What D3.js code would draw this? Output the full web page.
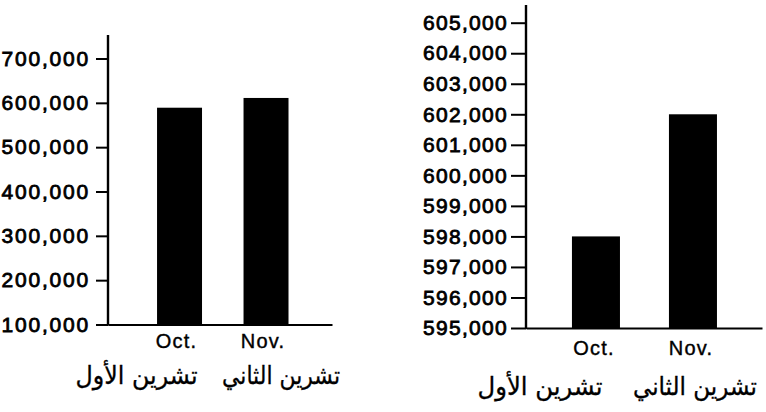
<!DOCTYPE html>
<html>
<head>
<meta charset="utf-8">
<script src="https://cdn.jsdelivr.net/npm/d3@7"></script>
<style>
  html, body { margin: 0; padding: 0; background: #fff; }
  svg { display: block; }
</style>
</head>
<body>
<svg id="chart" width="766" height="412"></svg>
<script>
// ---- data ----
const categories = ["Oct.", "Nov."];
const arabicLabels = ["تشرين الأول", "تشرين الثاني"];
const leftValues = [589000, 611000];
const rightValues = [598000, 602000];
const leftTicks = [100000, 200000, 300000, 400000, 500000, 600000, 700000];
const rightTicks = [595000, 596000, 597000, 598000, 599000, 600000, 601000, 602000, 603000, 604000, 605000];

const svg = d3.select("#chart");
const fmt = d3.format(",");

function drawChart(cfg) {
  const g = svg.append("g");
  const y = d3.scaleLinear().domain(cfg.domain).range([cfg.baseY, cfg.topTickY]);
  const x = d3.scaleBand().domain(categories)
    .range([cfg.axisX, cfg.endX])
    .paddingInner(cfg.padInner).paddingOuter(cfg.padOuter).align(cfg.align);

  // bars
  g.selectAll("rect.bar").data(cfg.values).enter().append("rect")
    .attr("class", "bar")
    .attr("x", (d, i) => x(categories[i]))
    .attr("width", x.bandwidth())
    .attr("y", d => y(d))
    .attr("height", d => y(cfg.domain[0]) - y(d))
    .attr("fill", "#000");

  // y axis
  const yAxis = d3.axisLeft(y).tickValues(cfg.ticks).tickFormat(fmt)
    .tickSize(cfg.tickSize).tickSizeOuter(0).tickPadding(cfg.tickPad);
  const ya = g.append("g").attr("transform", `translate(${cfg.axisX},0)`).call(yAxis);
  ya.select(".domain").remove();
  ya.selectAll(".tick line").attr("stroke", "#000").attr("stroke-width", 2);
  ya.selectAll(".tick text")
    .attr("font-family", "Liberation Sans, Arial, sans-serif")
    .attr("font-size", 21)
    .attr("letter-spacing", cfg.letterSpacing)
    .attr("fill", "#000")
    .attr("stroke", "#000").attr("stroke-width", 0.8);

  // vertical axis line
  g.append("line")
    .attr("x1", cfg.axisX).attr("x2", cfg.axisX)
    .attr("y1", cfg.axisTopY).attr("y2", cfg.baseY + 1)
    .attr("stroke", "#000").attr("stroke-width", 2.4);

  // x axis
  const xAxis = d3.axisBottom(x).tickSize(0).tickSizeOuter(0).tickPadding(cfg.xPad);
  const xa = g.append("g").attr("transform", `translate(0,${cfg.baseY})`).call(xAxis);
  xa.select(".domain").attr("stroke", "#000").attr("stroke-width", 2.2);
  xa.selectAll(".tick text")
    .attr("font-family", "Liberation Sans, Arial, sans-serif")
    .attr("font-size", 20)
    .attr("letter-spacing", 1.2)
    .attr("dx", cfg.xLabelDx)
    .attr("fill", "#000")
    .attr("stroke", "#000").attr("stroke-width", 0.4);

  // arabic labels
  g.selectAll("text.ar").data(arabicLabels).enter().append("text")
    .attr("class", "ar")
    .attr("x", (d, i) => x(categories[i]) + x.bandwidth() / 2 + cfg.arOffsets[i])
    .attr("y", cfg.arY)
    .attr("text-anchor", "middle")
    .attr("direction", "rtl")
    .attr("font-family", "DejaVu Sans, sans-serif")
    .attr("font-size", 25)
    .attr("textLength", (d, i) => cfg.arWidths[i])
    .attr("lengthAdjust", "spacingAndGlyphs")
    .attr("fill", "#000")
    .attr("stroke", "#000").attr("stroke-width", 0.3)
    .text(d => d);
}

drawChart({
  values: leftValues, ticks: leftTicks, domain: [100000, 700000],
  baseY: 324.5, topTickY: 58.5, axisTopY: 35,
  axisX: 108, endX: 332, padInner: 0.48, padOuter: 0.535, align: 0.53,
  tickSize: 12, tickPad: 6, letterSpacing: 1.8,
  xPad: 9, xLabelDx: -3, arY: 384, arOffsets: [-43, 15], arWidths: [122, 118]
});

drawChart({
  values: rightValues, ticks: rightTicks, domain: [595000, 605000],
  baseY: 328, topTickY: 22.7, axisTopY: 5,
  axisX: 526, endX: 762, padInner: 0.505, padOuter: 0.469, align: 0.505,
  tickSize: 15, tickPad: 3, letterSpacing: 1.3,
  xPad: 13, xLabelDx: -2, arY: 395, arOffsets: [-56, 2], arWidths: [125, 124]
});
</script>
</body>
</html>
